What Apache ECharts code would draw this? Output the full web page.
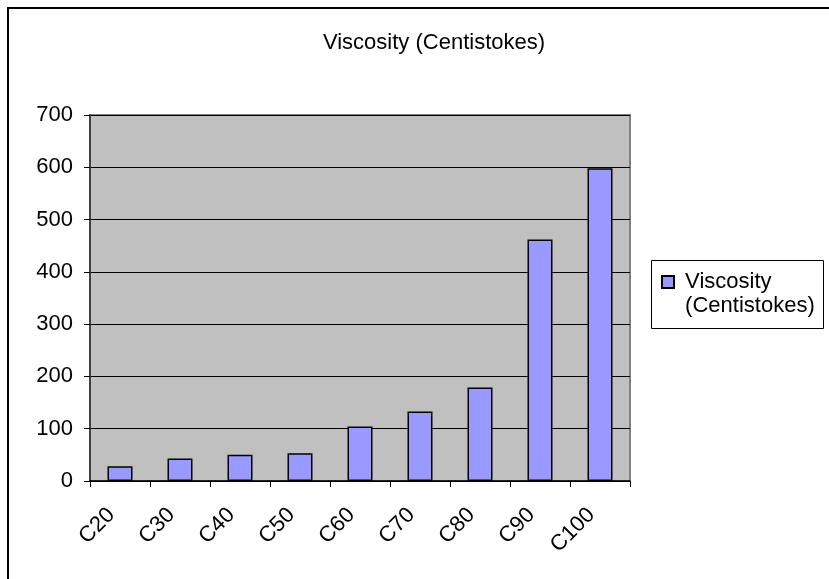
<!DOCTYPE html>
<html>
<head>
<meta charset="utf-8">
<script src="https://cdn.jsdelivr.net/npm/echarts@6/dist/echarts.min.js"></script>
<style>
  html, body { margin: 0; padding: 0; background: #fff; }
  #chart { width: 829px; height: 579px; }
</style>
</head>
<body>
<div id="chart"></div>
<script>
// Data
const categories = ['C20', 'C30', 'C40', 'C50', 'C60', 'C70', 'C80', 'C90', 'C100']
const viscosity = [28, 43, 50, 53, 104, 133, 179, 462, 598]
const seriesName = 'Viscosity (Centistokes)'

const font = '"Liberation Sans", Arial, sans-serif'

const chart = echarts.init(document.getElementById('chart'))
chart.setOption({
  animation: false,
  backgroundColor: '#fff',
  title: {
    text: seriesName,
    left: 429,
    top: 27,
    textAlign: 'center',
    textStyle: { fontFamily: font, fontSize: 22, fontWeight: 'normal', color: '#000' }
  },
  legend: {
    data: [seriesName],
    orient: 'vertical',
    left: 661,
    top: 246,
    padding: 0,
    itemWidth: 12,
    itemHeight: 12,
    itemGap: 0,
    icon: 'rect',
    // leading empty line keeps the swatch level with the first line
    formatter: () => '\n Viscosity\n (Centistokes)',
    textStyle: { fontFamily: font, fontSize: 22, color: '#000', lineHeight: 24 }
  },
  grid: {
    left: 90, right: 199, top: 115, bottom: 98,
    show: true,
    backgroundColor: '#C0C0C0',
    borderColor: '#808080',
    borderWidth: 2
  },
  xAxis: {
    type: 'category',
    data: categories,
    axisLine: { lineStyle: { color: '#000', width: 1.5 } },
    axisTick: { show: true, length: 6, lineStyle: { color: '#000' } },
    axisLabel: {
      rotate: 45, margin: 22, color: '#000',
      fontFamily: font, fontSize: 22,
      formatter: v => v + '  '
    }
  },
  yAxis: {
    type: 'value',
    min: 0, max: 700, interval: 100,
    axisLine: { show: true, lineStyle: { color: '#404040', width: 2 } },
    axisTick: { show: true, length: 6, lineStyle: { color: '#000' } },
    axisLabel: { color: '#000', fontFamily: font, fontSize: 22, margin: 17 },
    splitLine: { lineStyle: { color: '#000', width: 1 } }
  },
  series: [{
    name: seriesName,
    type: 'bar',
    data: viscosity,
    barWidth: 25,
    itemStyle: { color: '#9999FF', borderColor: '#000', borderWidth: 1.5 }
  }],
  graphic: [
    {
      type: 'rect',
      shape: { x: 8, y: 8, width: 900, height: 700 },
      style: { fill: 'none', stroke: '#000', lineWidth: 2 },
      silent: true
    },
    {
      type: 'rect',
      shape: { x: 651.5, y: 260.5, width: 172, height: 68 },
      style: { fill: 'none', stroke: '#000', lineWidth: 1 },
      silent: true
    }
  ]
})

window.addEventListener('resize', () => chart.resize())
</script>
</body>
</html>
